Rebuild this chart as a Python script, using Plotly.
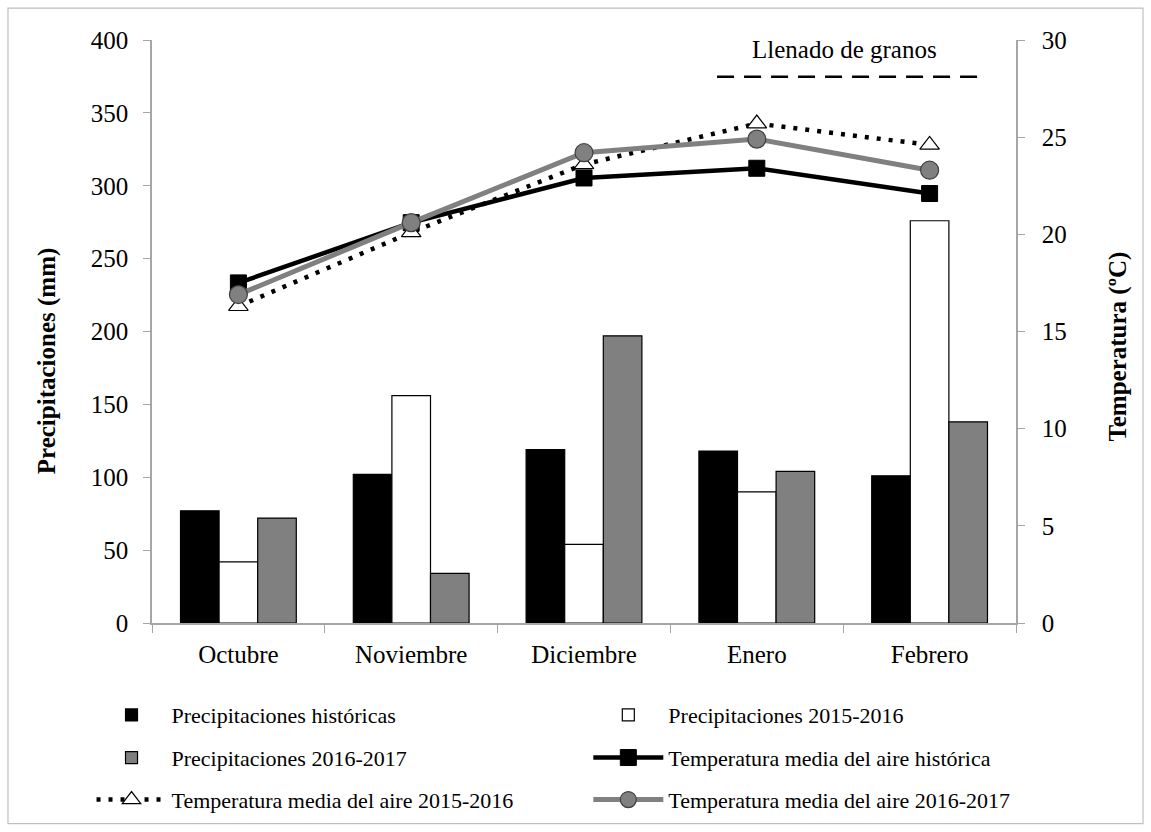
import plotly.graph_objects as go

months = ["Octubre", "Noviembre", "Diciembre", "Enero", "Febrero"]

precip_hist = [77, 102, 119, 118, 101]
precip_1516 = [42, 156, 54, 90, 276]
precip_1617 = [72, 34, 197, 104, 138]

temp_hist = [17.5, 20.6, 22.9, 23.4, 22.1]
temp_1516 = [16.3, 20.1, 23.6, 25.7, 24.6]
temp_1617 = [16.9, 20.6, 24.2, 24.9, 23.3]

left_ticks = [0, 50, 100, 150, 200, 250, 300, 350, 400]
right_ticks = [0, 5, 10, 15, 20, 25, 30]

FONT = "Liberation Serif"
AXIS_GRAY = "#a6a6a6"
TICK_SIZE = 25

fig = go.Figure()

fig.add_trace(go.Bar(x=months, y=precip_hist, name="Precipitaciones históricas",
                     marker=dict(color="black", line=dict(color="black", width=1.2)),
                     legend="legend"))
fig.add_trace(go.Bar(x=months, y=precip_1516, name="Precipitaciones 2015-2016",
                     marker=dict(color="white", line=dict(color="black", width=1.2)),
                     legend="legend2"))
fig.add_trace(go.Bar(x=months, y=precip_1617, name="Precipitaciones 2016-2017",
                     marker=dict(color="#808080", line=dict(color="black", width=1.2)),
                     legend="legend3"))

fig.add_trace(go.Scatter(x=months, y=temp_hist, yaxis="y2", mode="lines+markers",
                         name="Temperatura media del aire histórica",
                         line=dict(color="black", width=4.5),
                         marker=dict(symbol="square", size=16, color="black",
                                     line=dict(color="black", width=1)),
                         legend="legend4"))
fig.add_trace(go.Scatter(x=months, y=temp_1516, yaxis="y2", mode="lines+markers",
                         name="Temperatura media del aire 2015-2016",
                         line=dict(color="black", width=4.5, dash="4px,8px"),
                         marker=dict(symbol="triangle-up", size=17, color="white",
                                     line=dict(color="black", width=1.2)),
                         legend="legend5"))
fig.add_trace(go.Scatter(x=months, y=temp_1617, yaxis="y2", mode="lines+markers",
                         name="Temperatura media del aire 2016-2017",
                         line=dict(color="#808080", width=5),
                         marker=dict(symbol="circle", size=18, color="#808080",
                                     line=dict(color="#404040", width=1.2)),
                         legend="legend6"))

def leg(x, y):
    return dict(x=x, y=y, orientation="h", xanchor="left", yanchor="middle",
                font=dict(family=FONT, size=22, color="black"),
                bgcolor="rgba(0,0,0,0)", itemwidth=70)

col1, col2 = -0.070, 0.505
row1, row2, row3 = -0.156, -0.229, -0.301

fig.update_layout(
    width=1151, height=832,
    paper_bgcolor="white", plot_bgcolor="white",
    margin=dict(l=152, r=135, t=40, b=208),
    barmode="group", bargap=0.33, bargroupgap=0,
    font=dict(family=FONT, size=TICK_SIZE, color="black"),
    xaxis=dict(type="category", showline=True, linecolor=AXIS_GRAY, linewidth=1.5,
               ticks="outside", tickson="boundaries", ticklen=8, tickcolor=AXIS_GRAY,
               tickfont=dict(family=FONT, size=TICK_SIZE, color="black"),
               ticklabelstandoff=8, showgrid=False, zeroline=False),
    yaxis=dict(range=[0, 400], tickvals=left_ticks, showline=True, linecolor=AXIS_GRAY,
               linewidth=1.5, ticks="outside", ticklen=7, tickcolor=AXIS_GRAY,
               tickfont=dict(family=FONT, size=TICK_SIZE, color="black"),
               ticklabelstandoff=10, showgrid=False, zeroline=False),
    yaxis2=dict(range=[0, 30], tickvals=right_ticks, overlaying="y", side="right",
                showline=True, linecolor=AXIS_GRAY, linewidth=1.5, ticks="outside",
                ticklen=7, tickcolor=AXIS_GRAY,
                tickfont=dict(family=FONT, size=TICK_SIZE, color="black"),
                ticklabelstandoff=12, showgrid=False, zeroline=False),
    legend=leg(col1, row1),
    legend2=leg(col2, row1),
    legend3=leg(col1, row2),
    legend4=leg(col2, row2),
    legend5=leg(col1, row3),
    legend6=leg(col2, row3),
    showlegend=True,
)

fig.add_annotation(text="<b>Precipitaciones (mm)</b>", xref="paper", yref="paper",
                   x=-0.1215, y=0.449, textangle=-90, showarrow=False,
                   xanchor="center", yanchor="middle",
                   font=dict(family=FONT, size=25, color="black"))
fig.add_annotation(text="<b>Temperatura (ºC)</b>", xref="paper", yref="paper",
                   x=1.118, y=0.474, textangle=-90, showarrow=False,
                   xanchor="center", yanchor="middle",
                   font=dict(family=FONT, size=25, color="black"))
fig.add_annotation(text="Llenado de granos", xref="paper", yref="paper",
                   x=0.802, y=0.983, showarrow=False, xanchor="center", yanchor="middle",
                   font=dict(family=FONT, size=25, color="black"))
fig.add_shape(type="line", xref="paper", yref="paper", x0=0.654, x1=0.958,
              y0=0.937, y1=0.937, line=dict(color="black", width=2.5, dash="17px,10px"))
fig.add_shape(type="rect", xref="paper", yref="paper", x0=-0.1667, x1=1.147,
              y0=-0.344, y1=1.0548, line=dict(color="#bfbfbf", width=1.2), layer="below")

fig.write_html("out.html", config={"displayModeBar": False},
               post_script="document.body.style.margin='0px';")
